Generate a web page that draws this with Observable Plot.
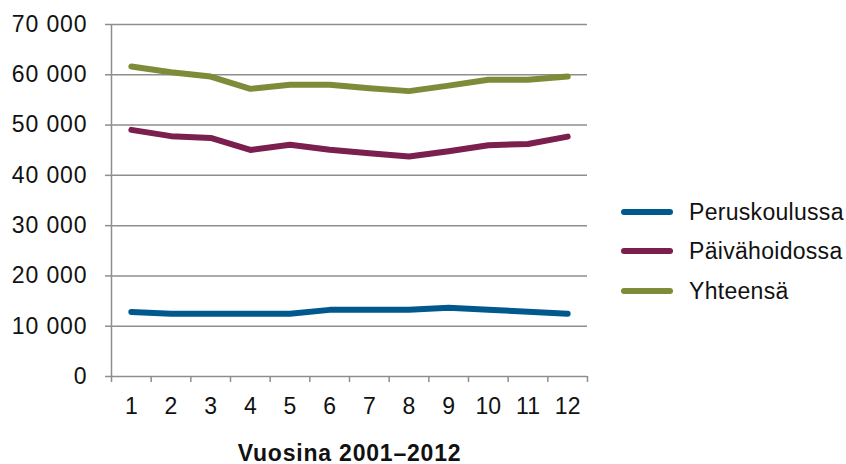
<!DOCTYPE html>
<html>
<head>
<meta charset="utf-8">
<script src="https://cdn.jsdelivr.net/npm/d3@7"></script>
<script src="https://cdn.jsdelivr.net/npm/@observablehq/plot@0.6"></script>
<style>
  html, body { margin: 0; padding: 0; background: #fff; }
  #wrap { position: relative; width: 846px; height: 464px; font-family: "Liberation Sans", Arial, sans-serif; }
  #wrap svg g[aria-label="y-axis tick label"] { letter-spacing: 0.9px; }
  #wrap svg g[aria-label="text"] { letter-spacing: 0.8px; }
  .leg { position: absolute; left: 621px; height: 30px; display: flex; align-items: center; font-size: 23px; letter-spacing: 0.3px; color: #111; white-space: nowrap; }
  .sw { width: 52px; height: 6px; border-radius: 3px; margin-right: 16px; }
</style>
</head>
<body>
<div id="wrap"></div>
<script>
const years = [1, 2, 3, 4, 5, 6, 7, 8, 9, 10, 11, 12];
const seriesNames = ["Peruskoulussa", "Päivähoidossa", "Yhteensä"];
const seriesColors = ["#00588c", "#7a1f4e", "#7e8b38"];
const peruskoulussa = [12850, 12500, 12500, 12500, 12500, 13250, 13250, 13250, 13650, 13250, 12900, 12500];
const paivahoidossa = [49050, 47800, 47450, 45050, 46100, 45100, 44400, 43750, 44800, 46000, 46250, 47700];
const yhteensa = [61650, 60500, 59650, 57200, 58000, 58000, 57300, 56750, 57850, 59000, 59000, 59650];
const yTicks = [0, 10000, 20000, 30000, 40000, 50000, 60000, 70000];
const xTitle = "Vuosina 2001–2012";

const seriesValues = [peruskoulussa, paivahoidossa, yhteensa];
const rows = [];
seriesNames.forEach((s, i) => years.forEach((yr, j) => rows.push({series: s, year: yr, value: seriesValues[i][j]})));

const xDomain = [years[0] - 0.5, years[years.length - 1] + 0.5];
const boundaries = d3.range(xDomain[0], xDomain[1] + 0.001, 1);
const gray = "#8a8f8f";
const fmt = d => d3.format(",")(d).replace(/,/g, " ");

const chart = Plot.plot({
  width: 846,
  height: 464,
  marginTop: 24,
  marginBottom: 88,
  marginLeft: 111,
  marginRight: 259,
  style: {fontFamily: "'Liberation Sans', Arial, sans-serif", fontSize: "23px", color: "#111", background: "#fff"},
  x: {domain: xDomain},
  y: {domain: [yTicks[0], yTicks[yTicks.length - 1]]},
  color: {domain: seriesNames, range: seriesColors},
  marks: [
    Plot.gridY({ticks: yTicks, stroke: gray, strokeOpacity: 1, strokeWidth: 1.5}),
    Plot.ruleX([xDomain[0]], {stroke: gray, strokeWidth: 1.5}),
    Plot.axisY({ticks: yTicks, tickFormat: fmt, tickSize: 6, tickPadding: 18, stroke: gray, strokeWidth: 1.5, label: null, fill: "#111"}),
    Plot.axisX({ticks: boundaries, tickFormat: () => "", tickSize: 6, stroke: gray, strokeWidth: 1.5, label: null}),
    Plot.axisX({ticks: years, tickFormat: d => String(d), tickSize: 0, tickPadding: 21, label: null, fill: "#111"}),
    Plot.lineY(rows, {x: "year", y: "value", z: "series", stroke: "series", strokeWidth: 6, strokeLinecap: "round", strokeLinejoin: "round"}),
    Plot.text([xTitle], {text: d => d, frameAnchor: "bottom", lineAnchor: "bottom", dy: 84, fontWeight: "bold", fontSize: 23, fill: "#111"})
  ]
});

const wrap = document.getElementById("wrap");
wrap.appendChild(chart);
const legendCenters = [212, 251, 291];
seriesNames.forEach((s, i) => {
  const d = document.createElement("div");
  d.className = "leg";
  d.style.top = (legendCenters[i] - 15) + "px";
  const sw = document.createElement("span");
  sw.className = "sw";
  sw.style.background = seriesColors[i];
  d.appendChild(sw);
  d.appendChild(document.createTextNode(s));
  wrap.appendChild(d);
});
</script>
</body>
</html>
